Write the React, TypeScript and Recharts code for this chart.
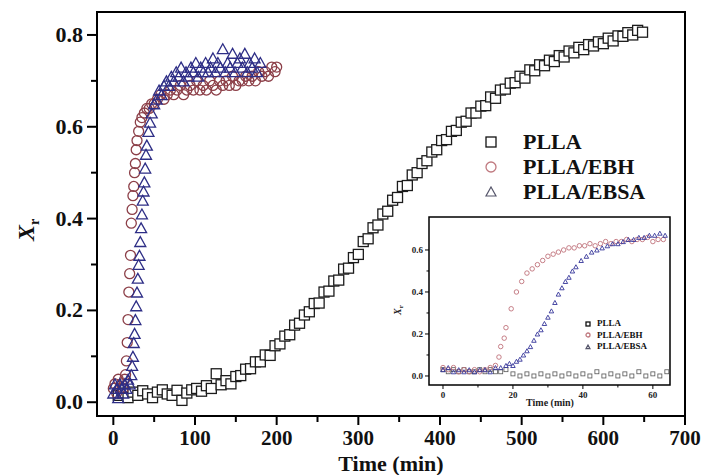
import React from 'react';
import { ScatterChart, Scatter, XAxis, YAxis, ReferenceArea } from 'recharts';

// main plot: PLLA (squares)
const pllaTime = [6, 12, 18, 24, 30, 36, 42, 48, 54, 60, 66, 72, 78, 84, 90, 96, 102, 108, 114, 120, 126, 132, 138, 144, 150, 156, 162, 168, 174, 180, 186, 192, 198, 204, 210, 216, 222, 228, 234, 240, 246, 252, 258, 264, 270, 276, 282, 288, 294, 300, 306, 312, 318, 324, 330, 336, 342, 348, 354, 360, 366, 372, 378, 384, 390, 396, 402, 408, 414, 420, 426, 432, 438, 444, 450, 456, 462, 468, 474, 480, 486, 492, 498, 504, 510, 516, 522, 528, 534, 540, 546, 552, 558, 564, 570, 576, 582, 588, 594, 600, 606, 612, 618, 624, 630, 636, 642, 648];
const pllaXr = [0.015, 0.02, 0.01, 0.022, 0.015, 0.025, 0.018, 0.01, 0.022, 0.027, 0.018, 0.015, 0.026, 0.004, 0.02, 0.027, 0.03, 0.024, 0.036, 0.03, 0.062, 0.038, 0.047, 0.04, 0.056, 0.058, 0.072, 0.073, 0.088, 0.088, 0.103, 0.102, 0.123, 0.127, 0.144, 0.147, 0.168, 0.172, 0.19, 0.197, 0.215, 0.216, 0.24, 0.242, 0.264, 0.266, 0.29, 0.292, 0.315, 0.322, 0.35, 0.356, 0.38, 0.386, 0.41, 0.416, 0.44, 0.446, 0.47, 0.472, 0.495, 0.5, 0.52, 0.526, 0.545, 0.55, 0.57, 0.572, 0.59, 0.592, 0.61, 0.612, 0.63, 0.63, 0.645, 0.646, 0.665, 0.662, 0.68, 0.682, 0.695, 0.696, 0.71, 0.706, 0.724, 0.722, 0.735, 0.733, 0.745, 0.742, 0.755, 0.752, 0.765, 0.761, 0.773, 0.768, 0.779, 0.776, 0.785, 0.781, 0.793, 0.787, 0.798, 0.797, 0.805, 0.8, 0.81, 0.806];

// PLLA/EBH (circles)
const ebhTime = [0, 2, 4, 6, 8, 10, 12, 14, 15, 16, 17, 18, 19, 20, 21, 22, 23, 24, 25, 26, 27, 28, 29, 31, 33, 35, 38, 41, 44, 47, 50, 54, 58, 62, 66, 70, 74, 78, 82, 86, 90, 94, 98, 102, 106, 110, 114, 118, 122, 126, 130, 134, 138, 142, 146, 150, 154, 158, 162, 166, 170, 174, 178, 182, 186, 190, 194, 198, 200];
const ebhXr = [0.03, 0.04, 0.02, 0.05, 0.03, 0.04, 0.03, 0.05, 0.06, 0.09, 0.13, 0.18, 0.24, 0.28, 0.32, 0.39, 0.42, 0.45, 0.47, 0.5, 0.52, 0.55, 0.57, 0.59, 0.61, 0.62, 0.63, 0.64, 0.64, 0.65, 0.65, 0.66, 0.67, 0.66, 0.67, 0.68, 0.67, 0.68, 0.69, 0.67, 0.68, 0.69, 0.68, 0.7, 0.68, 0.69, 0.68, 0.7, 0.69, 0.68, 0.7, 0.69, 0.7, 0.69, 0.71, 0.69, 0.7, 0.7, 0.71, 0.7, 0.71, 0.7, 0.72, 0.71, 0.72, 0.71, 0.73, 0.72, 0.73];

// PLLA/EBSA (triangles)
const ebsaTime = [0, 2, 4, 6, 8, 10, 12, 14, 16, 18, 20, 22, 23, 24, 25, 26, 27, 28, 29, 30, 31, 32, 33, 34, 35, 36, 37, 38, 39, 40, 41, 43, 45, 47, 50, 53, 56, 59, 62, 65, 68, 71, 74, 77, 80, 83, 86, 89, 92, 95, 98, 101, 104, 107, 110, 113, 116, 119, 122, 125, 128, 131, 134, 137, 140, 143, 146, 149, 152, 155, 158, 161, 164, 167, 170, 173, 176, 180];
const ebsaXr = [0.02, 0.04, 0.03, 0.01, 0.04, 0.03, 0.02, 0.04, 0.03, 0.05, 0.04, 0.06, 0.08, 0.1, 0.13, 0.15, 0.18, 0.21, 0.24, 0.27, 0.3, 0.32, 0.35, 0.38, 0.41, 0.44, 0.46, 0.48, 0.51, 0.54, 0.56, 0.59, 0.61, 0.63, 0.65, 0.66, 0.68, 0.67, 0.69, 0.7, 0.69, 0.71, 0.7, 0.72, 0.71, 0.73, 0.7, 0.72, 0.71, 0.73, 0.72, 0.74, 0.71, 0.73, 0.72, 0.74, 0.72, 0.73, 0.75, 0.72, 0.74, 0.73, 0.77, 0.72, 0.74, 0.73, 0.76, 0.72, 0.74, 0.75, 0.73, 0.76, 0.72, 0.74, 0.73, 0.75, 0.72, 0.74];

// inset
const inPllaTime = [0, 1.5, 3, 4.5, 6, 7.5, 9, 10.5, 12, 13.5, 15, 16.5, 18, 20, 22, 24, 26, 28, 30, 32, 34, 36, 38, 40, 42, 44, 46, 48, 50, 52, 54, 56, 58, 60, 62, 64];
const inPllaXr = [0.03, 0.02, 0.03, 0.02, 0.03, 0.02, 0.02, 0.03, 0.02, 0.03, 0.02, 0.02, 0.03, 0.01, 0.0, 0.01, 0.0, 0.01, 0.0, 0.01, 0.0, 0.01, 0.0, 0.01, 0.0, 0.02, 0.0, 0.01, 0.0, 0.01, 0.0, 0.02, 0.0, 0.01, 0.0, 0.02];
const inEbhTime = [0, 1.5, 3, 4.5, 6, 7.5, 9, 10.5, 12, 13.5, 15, 16, 16.5, 17.5, 18, 19.5, 21, 22.5, 24, 25.5, 27, 28.5, 30, 31.5, 33, 34.5, 36, 37.5, 39, 40.5, 42, 43.5, 45, 46.5, 48, 49.5, 51, 52.5, 54, 55.5, 57, 58.5, 60, 61.5, 63];
const inEbhXr = [0.04, 0.03, 0.04, 0.02, 0.03, 0.02, 0.03, 0.02, 0.03, 0.04, 0.05, 0.09, 0.14, 0.18, 0.23, 0.32, 0.4, 0.45, 0.49, 0.51, 0.53, 0.55, 0.57, 0.58, 0.59, 0.6, 0.61, 0.61, 0.62, 0.62, 0.63, 0.62, 0.63, 0.64, 0.63, 0.64, 0.64, 0.65, 0.64, 0.65, 0.65, 0.66, 0.64, 0.65, 0.65];
const inEbsaTime = [0, 1.5, 3, 4.5, 6, 7.5, 9, 10.5, 12, 13.5, 15, 16.5, 18, 19, 20, 21, 22, 23, 24, 25, 26, 27, 28, 29, 30, 31, 32, 33, 34, 35, 36, 37, 38, 39.5, 41, 42.5, 44, 45.5, 47, 48.5, 50, 51.5, 53, 54.5, 56, 57.5, 59, 60.5, 62, 63.5];
const inEbsaXr = [0.03, 0.04, 0.02, 0.03, 0.02, 0.03, 0.02, 0.03, 0.03, 0.02, 0.04, 0.04, 0.05, 0.06, 0.05, 0.07, 0.08, 0.1, 0.12, 0.14, 0.17, 0.2, 0.22, 0.25, 0.28, 0.31, 0.35, 0.39, 0.42, 0.45, 0.47, 0.5, 0.52, 0.55, 0.57, 0.59, 0.6, 0.61, 0.62, 0.63, 0.63, 0.64, 0.65, 0.65, 0.66, 0.66, 0.67, 0.67, 0.68, 0.67];

const xTicks = [0, 50, 100, 150, 200, 250, 300, 350, 400, 450, 500, 550, 600, 650, 700];
const yTicks = [0, 0.1, 0.2, 0.3, 0.4, 0.5, 0.6, 0.7, 0.8];
const inXTicks = [0, 10, 20, 30, 40, 50, 60];
const inYTicks = [0, 0.1, 0.2, 0.3, 0.4, 0.5, 0.6];

const seriesNames = ['PLLA', 'PLLA/EBH', 'PLLA/EBSA'];

const toPoints = (ts: number[], vs: number[]) => ts.map((t, i) => ({ t, xr: vs[i] }));

const FONT = '"Liberation Serif", "Times New Roman", serif';
const SQ = '#1c1c1c';
const CI = '#8c3f48';
const TR = '#2e2e86';

const makeSquare = (s: number, stroke: string, w: number) => (p: any) => (
    <rect x={p.cx - s / 2} y={p.cy - s / 2} width={s} height={s} fill="#fff" stroke={stroke} strokeWidth={w} />
);
const makeCircle = (s: number, stroke: string, w: number) => (p: any) => (
    <circle cx={p.cx} cy={p.cy} r={s / 2} fill="none" stroke={stroke} strokeWidth={w} />
);
const makeTriangle = (s: number, stroke: string, w: number) => (p: any) => {
    const h = s * 0.9;
    const pts = `${p.cx},${p.cy - h / 2} ${p.cx + s / 2},${p.cy + h / 2} ${p.cx - s / 2},${p.cy + h / 2}`;
    return <polygon points={pts} fill="none" stroke={stroke} strokeWidth={w} />;
};

const MainXTick = ({ x, y, payload }: any) => {
    const major = payload.value % 100 === 0;
    return (
        <g>
            <line x1={x} x2={x} y1={y} y2={y + (major ? 9 : 6)} stroke="#000" strokeWidth={2} />
            {major && (
                <text x={x} y={y + 29} textAnchor="middle" fontSize={21} fontWeight="bold" fontFamily={FONT} fill="#111">
                    {payload.value}
                </text>
            )}
        </g>
    );
};

const MainYTick = ({ x, y, payload }: any) => {
    const major = Math.round(payload.value * 10) % 2 === 0;
    return (
        <g>
            <line x1={x} x2={x - (major ? 10 : 6)} y1={y} y2={y} stroke="#000" strokeWidth={2} />
            {major && (
                <text x={x - 14} y={y + 7} textAnchor="end" fontSize={22} fontWeight="bold" fontFamily={FONT} fill="#111">
                    {payload.value.toFixed(1)}
                </text>
            )}
        </g>
    );
};

const InXTick = ({ x, y, payload }: any) => {
    const major = payload.value % 20 === 0;
    return (
        <g>
            <line x1={x} x2={x} y1={y} y2={y + (major ? 4 : 2.5)} stroke="#000" strokeWidth={1} />
            {major && (
                <text x={x} y={y + 13} textAnchor="middle" fontSize={9} fontWeight="bold" fontFamily={FONT} fill="#222">
                    {payload.value}
                </text>
            )}
        </g>
    );
};

const InYTick = ({ x, y, payload }: any) => {
    const major = Math.round(payload.value * 10) % 2 === 0;
    return (
        <g>
            <line x1={x} x2={x - (major ? 4 : 2.5)} y1={y} y2={y} stroke="#000" strokeWidth={1} />
            {major && (
                <text x={x - 6} y={y + 3} textAnchor="end" fontSize={9} fontWeight="bold" fontFamily={FONT} fill="#222">
                    {payload.value.toFixed(1)}
                </text>
            )}
        </g>
    );
};

const legendMarks = [
    (s: number) => <rect x={1} y={1} width={s} height={s} fill="none" stroke="#111" strokeWidth={1.3} />,
    (s: number) => <circle cx={1 + s / 2} cy={1 + s / 2} r={s / 2} fill="none" stroke="#c07a80" strokeWidth={1.3} />,
    (s: number) => (
        <polygon points={`${1 + s / 2},1 ${1 + s},${1 + s * 0.9} 1,${1 + s * 0.9}`} fill="none" stroke="#55556a" strokeWidth={1.2} />
    ),
];

const Legend = ({ left, top, gap, size, fontSize, textLeft }: any) => (
    <div style={{ position: 'absolute', left, top }}>
        {seriesNames.map((name, i) => (
            <div key={name} style={{ position: 'absolute', top: i * gap, left: 0, height: gap, width: 200 }}>
                <svg width={size + 2} height={size + 2} style={{ position: 'absolute', left: 0, top: (gap - size - 2) / 2 }}>
                    {legendMarks[i](size)}
                </svg>
                <span
                    style={{
                        position: 'absolute',
                        left: textLeft,
                        top: 0,
                        lineHeight: `${gap}px`,
                        fontFamily: FONT,
                        fontWeight: 'bold',
                        fontSize,
                        color: '#111',
                        whiteSpace: 'nowrap',
                    }}
                >
                    {name}
                </span>
            </div>
        ))}
    </div>
);

export default function App() {
    return (
        <div style={{ position: 'absolute', left: 0, top: 0, width: 706, height: 475, background: '#fff' }}>
            <ScatterChart width={706} height={475} margin={{ top: 12, right: 21, bottom: 0, left: 0 }}>
                <XAxis
                    type="number"
                    dataKey="t"
                    domain={[-20, 700]}
                    allowDataOverflow
                    ticks={xTicks}
                    interval={0}
                    height={59}
                    axisLine={false}
                    tickLine={false}
                    tickSize={0}
                    tickMargin={0}
                    tick={<MainXTick />}
                    label={() => (
                        <text x={391} y={471} textAnchor="middle" fontSize={22} fontWeight="bold" fontFamily={FONT} fill="#111">
                            Time (min)
                        </text>
                    )}
                />
                <YAxis
                    type="number"
                    dataKey="xr"
                    domain={[-0.03, 0.85]}
                    allowDataOverflow
                    ticks={yTicks}
                    interval={0}
                    width={97}
                    axisLine={false}
                    tickLine={false}
                    tickSize={0}
                    tickMargin={0}
                    tick={<MainYTick />}
                    label={() => (
                        <text transform="translate(34,230) rotate(-90)" textAnchor="middle" fontFamily={FONT} fontWeight="bold" fill="#111">
                            <tspan fontSize={24} fontStyle="italic">X</tspan>
                            <tspan fontSize={14} dy={5}>r</tspan>
                        </text>
                    )}
                />
                <ReferenceArea x1={-20} x2={700} y1={-0.03} y2={0.85} fill="none" stroke="#000" strokeWidth={2} ifOverflow="visible" />
                <Scatter data={toPoints(pllaTime, pllaXr)} shape={makeSquare(10, SQ, 1.3)} isAnimationActive={false} />
                <Scatter data={toPoints(ebhTime, ebhXr)} shape={makeCircle(10, CI, 1.3)} isAnimationActive={false} />
                <Scatter data={toPoints(ebsaTime, ebsaXr)} shape={makeTriangle(11, TR, 1.3)} isAnimationActive={false} />
            </ScatterChart>

            <Legend left={485} top={129} gap={25} size={10} fontSize={22} textLeft={38} />

            <div style={{ position: 'absolute', left: 390, top: 205 }}>
                <ScatterChart width={295} height={212} margin={{ top: 12, right: 15, bottom: 0, left: 0 }}>
                    <XAxis
                        type="number"
                        dataKey="t"
                        domain={[-4, 64.9]}
                        allowDataOverflow
                        ticks={inXTicks}
                        interval={0}
                        height={32}
                        axisLine={false}
                        tickLine={false}
                        tickSize={0}
                        tickMargin={0}
                        tick={<InXTick />}
                        label={() => (
                            <text x={160} y={201} textAnchor="middle" fontSize={10} fontWeight="bold" fontFamily={FONT} fill="#222">
                                Time (min)
                            </text>
                        )}
                    />
                    <YAxis
                        type="number"
                        dataKey="xr"
                        domain={[-0.043, 0.757]}
                        allowDataOverflow
                        ticks={inYTicks}
                        interval={0}
                        width={39}
                        axisLine={false}
                        tickLine={false}
                        tickSize={0}
                        tickMargin={0}
                        tick={<InYTick />}
                        label={() => (
                            <text transform="translate(11,105) rotate(-90)" textAnchor="middle" fontFamily={FONT} fontWeight="bold" fill="#222">
                                <tspan fontSize={10} fontStyle="italic">X</tspan>
                                <tspan fontSize={7} dy={2}>r</tspan>
                            </text>
                        )}
                    />
                    <ReferenceArea x1={-4} x2={64.9} y1={-0.043} y2={0.757} fill="#fff" stroke="#000" strokeWidth={1.5} ifOverflow="visible" />
                    <Scatter data={toPoints(inPllaTime, inPllaXr)} shape={makeSquare(4, '#555', 0.8)} isAnimationActive={false} />
                    <Scatter data={toPoints(inEbhTime, inEbhXr)} shape={makeCircle(4.5, '#c0727a', 0.9)} isAnimationActive={false} />
                    <Scatter data={toPoints(inEbsaTime, inEbsaXr)} shape={makeTriangle(4.5, '#35359a', 0.9)} isAnimationActive={false} />
                </ScatterChart>
                <Legend left={195} top={113} gap={11.5} size={4} fontSize={9} textLeft={12} />
            </div>
        </div>
    );
}
